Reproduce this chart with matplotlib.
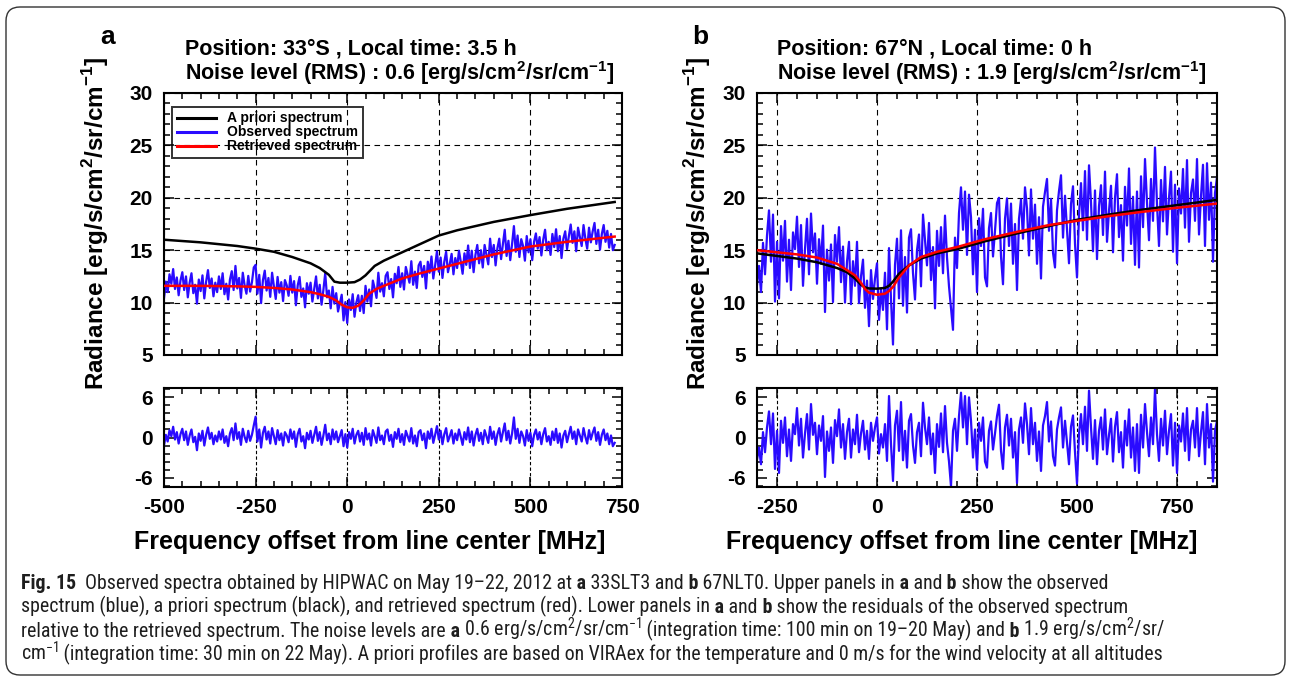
import numpy as np
import matplotlib
matplotlib.use("Agg")
import matplotlib.pyplot as plt
from matplotlib import font_manager as fm
from matplotlib.patches import FancyBboxPatch
from matplotlib.ticker import MultipleLocator
from matplotlib.transforms import IdentityTransform


def pick_caption_font():
    # prefer a narrow face, the caption in the paper is set in a condensed sans
    for fam, stretch in [("Liberation Sans Narrow", "normal"), ("Roboto Condensed", "normal"),
                         ("Open Sans Condensed", "normal"), ("DejaVu Sans", "condensed")]:
        try:
            path = fm.findfont(fm.FontProperties(family=fam, stretch=stretch),
                               fallback_to_default=False)
        except ValueError:
            continue
        if stretch == "normal" or "ondensed" in path:
            return fam, stretch
    return "Open Sans", "normal"


cap_font, cap_stretch = pick_caption_font()

plt.rcParams["font.family"] = ["Liberation Sans", "DejaVu Sans"]
plt.rcParams["font.weight"] = "bold"
plt.rcParams["axes.unicode_minus"] = False
plt.rcParams["mathtext.fontset"] = "custom"
plt.rcParams["mathtext.rm"] = cap_font + ":weight=normal"
plt.rcParams["mathtext.bf"] = "Liberation Sans:bold"

# ---------------- data ----------------
# panel a : 33S, LT 3.5 h
freq_a = np.arange(-500, 731, 5)
obs_a = [10.4, 12.0, 11.0, 12.7, 11.8, 13.2, 11.3, 12.4, 10.7, 12.1,
         12.9, 11.2, 12.5, 10.5, 11.9, 12.8, 10.9, 11.7, 9.9, 12.2,
         11.1, 12.6, 10.4, 12.0, 13.1, 11.4, 12.3, 10.6, 11.9, 11.0,
         12.5, 11.3, 12.8, 10.8, 11.8, 10.3, 12.2, 13.0, 11.2, 13.5,
         11.35, 12.35, 10.45, 12.85, 11.65, 10.85, 12.55, 11.05, 11.95, 13.35,
         13.6, 10.85, 12.65, 9.95, 12.15, 13.05, 11.15, 12.35, 10.55, 12.85,
         11.55, 10.35, 12.45, 10.95, 11.95, 10.15, 12.15, 11.65, 10.65, 12.55,
         10.95, 12.05, 9.75, 11.65, 12.45, 10.55, 11.35, 9.55, 11.85, 10.85,
         11.9, 10.1, 11.3, 12.5, 10.4, 11.7, 9.8, 11.2, 12.8, 10.5,
         11.15, 9.45, 11.5, 9.9, 10.9, 9.15, 9.95, 10.75, 8.3, 10.05,
         8.05, 10.3, 9.3, 10.8, 8.65, 10.0, 10.7, 9.2, 10.65, 9.0,
         11.6, 10.1, 11.25, 9.65, 12.1, 11.35, 10.45, 12.85, 11.05, 11.85,
         10.6, 12.55, 12.9, 11.3, 12.25, 10.5, 12.75, 11.85, 13.4, 11.5,
         12.8, 11.25, 13.4, 12.65, 11.9, 13.95, 11.7, 12.95, 11.4, 13.55,
         13.9, 12.45, 13.5, 11.35, 13.9, 12.85, 14.4, 12.3, 13.55, 14.9,
         12.95, 14.3, 12.35, 13.9, 14.85, 12.9, 13.7, 14.65, 12.7, 14.25,
         13.3, 14.95, 13.9, 12.75, 14.7, 13.6, 15.45, 13.3, 14.95, 12.9,
         14.55, 15.5, 13.75, 15.0, 13.35, 15.5, 14.6, 13.65, 16.1, 14.35,
         15.5, 13.55, 15.2, 16.1, 14.15, 15.6, 16.95, 14.45, 15.9, 14.05,
         15.6, 17.3, 14.85, 16.4, 14.35, 16.05, 15.4, 14.0, 16.35, 14.8,
         16.05, 14.05, 15.8, 16.6, 15.15, 16.25, 14.5, 16.0, 16.95, 15.0,
         15.8, 14.55, 16.55, 15.3, 17.0, 14.9, 16.35, 14.25, 16.1, 16.8,
         15.1, 16.35, 17.45, 15.7, 16.8, 14.9, 17.15, 16.25, 15.4, 17.4,
         16.1, 15.15, 17.15, 15.75, 16.8, 17.6, 15.6, 16.95, 15.05, 16.55,
         17.4, 15.8, 16.85, 15.25, 16.55, 15.0, 15.5]
res_a = [-1.2, 0.4, -0.6, 1.1, 0.2, 1.6, -0.3, 0.8, -0.9, 0.5,
         1.3, -0.4, 0.9, -1.1, 0.3, 1.2, -0.7, 0.1, -1.9, 0.6,
         -0.5, 1.0, -1.2, 0.4, 1.5, -0.2, 0.7, -1.0, 0.3, -0.6,
         0.9, -0.3, 1.2, -0.8, 0.2, -1.3, 0.6, 1.4, -0.4, 2.1,
         -0.2, 0.8, -1.1, 1.3, 0.1, -0.7, 1.0, -0.5, 0.4, 1.8,
         3.1, -0.6, 1.2, -1.5, 0.7, 1.6, -0.3, 0.9, -0.9, 1.4,
         0.2, -1.0, 1.1, -0.4, 0.6, -1.2, 0.8, 0.3, -0.7, 1.2,
         -0.2, 0.9, -1.4, 0.5, 1.3, -0.6, 0.2, -1.6, 0.7, -0.3,
         1.0, -0.8, 0.4, 1.6, -0.5, 0.8, -1.1, 0.3, 1.9, -0.4,
         0.6, -1.0, 1.2, -0.3, 0.9, -0.7, 0.2, 1.1, -1.3, 0.5,
         -1.5, 0.8, -0.2, 1.3, -0.9, 0.4, 1.0, -0.6, 0.7, -1.1,
         1.4, -0.3, 0.6, -1.2, 1.1, 0.2, -0.8, 1.5, -0.4, 0.3,
         -1.0, 0.9, 1.2, -0.5, 0.4, -1.4, 0.8, -0.2, 1.3, -0.7,
         0.5, -1.1, 1.0, 0.2, -0.6, 1.4, -0.9, 0.3, -1.3, 0.8,
         1.1, -0.4, 0.6, -1.6, 0.9, -0.2, 1.3, -0.8, 0.4, 1.7,
         -0.3, 1.0, -1.0, 0.5, 1.4, -0.6, 0.2, 1.1, -0.9, 0.6,
         -0.4, 1.2, 0.1, -1.1, 0.8, -0.3, 1.5, -0.7, 0.9, -1.2,
         0.4, 1.3, -0.5, 0.7, -1.0, 1.1, 0.2, -0.8, 1.6, -0.2,
         0.9, -1.1, 0.5, 1.4, -0.6, 0.8, 2.1, -0.4, 1.0, -0.9,
         0.6, 3.0, -0.2, 1.3, -0.8, 0.9, 0.2, -1.2, 1.1, -0.5,
         0.7, -1.3, 0.4, 1.2, -0.3, 0.8, -1.0, 0.5, 1.4, -0.6,
         0.2, -1.1, 0.9, -0.4, 1.3, -0.8, 0.6, -1.5, 0.3, 1.0,
         -0.7, 0.5, 1.6, -0.2, 0.9, -1.0, 1.2, 0.3, -0.6, 1.4,
         0.1, -0.9, 1.1, -0.3, 0.7, 1.5, -0.5, 0.8, -1.1, 0.4,
         1.2, -0.4, 0.6, -1.0, 0.3, -1.3, -0.8]
curve_fa = [-500, -400, -300, -250, -200, -150, -100, -75, -50, -35, -20, 0,
            20, 35, 50, 75, 100, 150, 200, 250, 300, 400, 500, 600, 730]
apriori_a = [16.0, 15.75, 15.4, 15.15, 14.85, 14.35, 13.75, 13.3, 12.65, 12.0,
             11.9, 11.9, 11.95, 12.2, 12.6, 13.5, 14.0, 14.8, 15.6, 16.4, 16.9,
             17.7, 18.35, 18.95, 19.6]
retr_fa = [-500, -400, -300, -250, -200, -150, -100, -75, -50, -30, -15, 0,
           15, 30, 45, 60, 80, 100, 150, 200, 250, 300, 400, 500, 600, 730]
retrieved_a = [11.6, 11.6, 11.55, 11.5, 11.4, 11.25, 11.0, 10.8, 10.55, 10.2,
               9.8, 9.55, 9.5, 9.7, 10.2, 10.85, 11.3, 11.6, 12.3, 12.8, 13.25,
               13.7, 14.6, 15.35, 15.8, 16.3]

# panel b : 67N, LT 0 h
freq_b = np.arange(-300, 851, 5)
obs_b = [11.7, 13.5, 11.0, 15.7, 12.7, 16.4, 18.8, 13.9, 18.4, 10.1,
         15.8, 10.4, 17.3, 14.0, 17.8, 12.0, 16.0, 11.2, 16.7, 15.1,
         18.2, 13.4, 17.4, 11.6, 15.1, 18.0, 12.7, 18.5, 14.8, 16.6,
         11.8, 16.05, 13.7, 17.35, 9.1, 15.05, 12.1, 15.55, 10.05, 16.45,
         13.9, 17.2, 11.95, 15.35, 10.0, 13.9, 15.8, 9.85, 13.95, 11.6,
         15.8, 9.95, 12.5, 14.1, 9.5, 12.1, 7.75, 13.1, 10.35, 12.3,
         13.75, 8.35, 11.25, 9.3, 12.85, 7.45, 15.2, 10.3, 6.0, 13.6,
         16.1, 10.4, 16.9, 9.7, 14.35, 9.05, 16.2, 17.0, 12.8, 10.3,
         15.0, 16.5, 11.55, 18.4, 16.0, 13.55, 17.6, 12.15, 15.3, 9.45,
         16.85, 13.5, 17.2, 12.8, 18.3, 14.3, 11.55, 9.5, 7.4, 16.2,
         13.3, 18.55, 21.0, 16.95, 20.6, 14.55, 20.3, 18.15, 12.7, 16.95,
         11.0, 18.05, 15.4, 18.95, 12.4, 11.55, 17.1, 18.55, 14.4, 16.85,
         19.5, 20.0, 14.4, 11.75, 18.0, 19.95, 15.4, 19.45, 13.7, 17.5,
         11.2, 18.0, 19.85, 16.1, 21.0, 19.0, 14.5, 20.8, 16.1, 19.35,
         13.7, 18.15, 12.3, 19.15, 20.55, 21.8, 16.85, 19.9, 14.75, 13.35,
         18.8, 20.65, 22.15, 16.2, 20.2, 16.95, 13.75, 19.4, 21.1, 15.6,
         12.4, 18.35, 21.4, 16.9, 22.55, 16.0, 23.1, 19.55, 14.9, 20.7,
         14.15, 19.2, 21.2, 16.45, 22.5, 15.8, 18.75, 21.15, 14.8, 20.0,
         22.25, 16.25, 19.3, 14.0, 21.05, 17.35, 22.8, 15.6, 20.1, 13.6,
         20.6, 13.35, 22.05, 17.2, 23.7, 19.55, 15.95, 21.8, 17.8, 24.8,
         19.35, 15.4, 21.7, 17.75, 22.95, 16.5, 20.0, 22.5, 14.85, 21.25,
         13.75, 20.9, 18.5, 22.75, 17.15, 23.6, 15.8, 20.45, 21.75, 17.8,
         23.7, 16.5, 20.15, 23.15, 15.4, 23.3, 17.9, 21.45, 13.9, 20.45,
         21.95]
res_b = [-3.3, -1.5, -4.0, 0.8, -2.2, 1.5, 3.9, -1.0, 3.6, -4.7,
         1.0, -5.3, 2.5, -0.8, 3.0, -2.8, 1.2, -3.5, 2.0, 0.5,
         4.4, -1.2, 2.8, -3.0, 0.6, 3.5, -1.8, 5.0, 0.4, 2.2,
         -2.5, 1.8, -0.5, 3.2, -5.9, 0.9, -2.0, 1.5, -3.8, 2.6,
         0.2, 4.2, -1.5, 2.0, -3.2, 0.8, 2.8, -3.0, 1.2, -1.0,
         3.4, -2.2, 0.6, 2.5, -1.8, 1.0, -3.2, 2.2, -0.5, 1.5,
         3.0, -2.4, 0.5, -1.5, 2.0, -3.5, 6.2, -1.0, -6.5, 1.8,
         4.0, -2.0, 5.3, -3.4, 1.0, -4.5, 2.5, 3.5, -1.2, -3.8,
         0.8, 2.2, -2.8, 5.2, 1.5, -1.0, 3.0, -2.5, 0.6, -5.3,
         2.0, -1.4, 3.6, -2.2, 4.7, -0.8, -3.6, -7.3, 1.0, 2.8,
         -2.0, 3.2, 6.7, 1.5, 6.2, -1.0, 6.0, 2.5, -3.0, 1.2,
         -4.8, 2.2, -0.5, 3.0, -3.6, -4.5, 1.0, 2.4, -1.8, 0.6,
         3.2, 4.9, -2.0, -4.7, 1.5, 3.4, -1.2, 2.8, -3.0, 0.8,
         -6.8, 1.2, 3.0, -0.8, 5.1, 2.0, -2.5, 4.4, -1.0, 2.2,
         -3.5, 0.9, -5.0, 1.8, 3.2, 5.3, -0.6, 2.4, -2.8, -4.2,
         1.2, 3.0, 4.5, -1.5, 2.5, -0.8, -4.0, 1.6, 3.3, -2.2,
         -6.9, 0.5, 3.5, -1.0, 4.6, -2.0, 7.0, 1.5, -3.2, 2.6,
         -4.0, 1.0, 3.0, -1.8, 4.2, -2.5, 0.4, 2.8, -3.6, 1.6,
         3.8, -2.2, 0.8, -4.5, 2.5, -1.2, 4.2, -3.0, 1.5, -5.0,
         2.0, -5.3, 3.4, -1.5, 5.0, 0.8, -2.8, 3.0, -1.0, 7.3,
         0.5, -3.5, 2.8, -1.2, 4.0, -2.5, 1.0, 3.5, -4.2, 2.2,
         -5.3, 1.8, -0.6, 3.6, -2.0, 4.4, -3.4, 1.2, 2.5, -1.5,
         4.4, -2.8, 0.8, 3.8, -4.0, 5.0, -1.5, 2.0, -6.6, 1.0,
         2.5]
curve_fb = [-300, -250, -200, -150, -100, -75, -55, -40, -30, -20, 0, 20, 30,
            40, 55, 80, 110, 150, 200, 270, 350, 430, 500, 580, 650, 750, 850]
apriori_b = [14.7, 14.45, 14.2, 13.85, 13.3, 12.9, 12.3, 11.7, 11.45, 11.35,
             11.33, 11.4, 11.6, 12.0, 12.75, 13.55, 14.2, 14.7, 15.1, 15.85,
             16.6, 17.3, 17.9, 18.4, 18.8, 19.3, 19.8]
retrieved_b = [15.0, 14.8, 14.6, 14.3, 13.7, 13.1, 12.6, 11.9, 11.3, 10.95,
               10.75, 10.85, 11.1, 11.5, 12.4, 13.55, 14.35, 14.85, 15.3, 16.05,
               16.75, 17.4, 17.8, 18.25, 18.6, 19.05, 19.45]

titles_a = ["Position: 33°S , Local time: 3.5 h",
            "Noise level (RMS) : 0.6 [erg/s/cm$^{\\mathbf{2}}$/sr/cm$^{\\mathbf{-1}}$]"]
titles_b = ["Position: 67°N , Local time: 0 h",
            "Noise level (RMS) : 1.9 [erg/s/cm$^{\\mathbf{2}}$/sr/cm$^{\\mathbf{-1}}$]"]
ylabel = "Radiance [erg/s/cm$^{\\mathbf{2}}$/sr/cm$^{\\mathbf{-1}}$]"
xlabel = "Frequency offset from line center [MHz]"

caption = [
    [("Fig. 15", True), ("  Observed spectra obtained by HIPWAC on May 19–22, 2012 at", False),
     (" a", True), (" 33SLT3 and", False), (" b", True), (" 67NLT0. Upper panels in", False),
     (" a", True), (" and", False), (" b", True), (" show the observed", False)],
    [("spectrum (blue), a priori spectrum (black), and retrieved spectrum (red). Lower panels in", False),
     (" a", True), (" and", False), (" b", True), (" show the residuals of the observed spectrum", False)],
    [("relative to the retrieved spectrum. The noise levels are", False), (" a", True),
     (" 0.6 erg/s/cm$^{2}$/sr/cm$^{-1}$", False),
     (" (integration time: 100 min on 19–20 May) and", False),
     (" b", True), (" 1.9 erg/s/cm$^{2}$/sr/", False)],
    [("cm$^{-1}$", False),
     (" (integration time: 30 min on 22 May). A priori profiles are based on VIRAex "
      "for the temperature and 0 m/s for the wind velocity at all altitudes", False)],
]
caption_ends = [1093, 1076, 1262, 1263]   # right end of each caption line in the paper, px

BLUE = "#2a0bff"
W, H = 1290, 680
fig = plt.figure(figsize=(W / 100, H / 100), dpi=100)


def box(x0, y0, x1, y1):
    return [x0 / W, 1 - y1 / H, (x1 - x0) / W, (y1 - y0) / H]


def style(ax, xlim, xmaj, ylim, ymaj, ymin, upper):
    ax.set_xlim(xlim)
    ax.set_ylim(ylim)
    ax.set_xticks(xmaj)
    ax.set_yticks(ymaj)
    ax.xaxis.set_minor_locator(MultipleLocator(50))
    ax.yaxis.set_minor_locator(MultipleLocator(ymin))
    ax.tick_params(which="both", direction="in", top=True, right=True, width=1.1)
    ax.tick_params(which="major", length=7, labelsize=15, pad=8)
    ax.tick_params(which="minor", length=4)
    for s in ax.spines.values():
        s.set_linewidth(1.5)
    if upper:
        ax.tick_params(labelbottom=False)
        ax.grid(True, which="major", color="k", lw=0.8, ls=(0, (5, 4)))
    else:
        ax.grid(True, which="major", axis="x", color="k", lw=0.8, ls=(0, (3, 2)))


panels = [
    dict(x0=164, x1=622, xlim=(-500, 750), xt=[-500, -250, 0, 250, 500, 750],
         f=freq_a, obs=obs_a, res=res_a, cf=curve_fa, ap=apriori_a, rf=retr_fa,
         rt=retrieved_a, titles=titles_a, lab="a", tx=185, lx=108, yl=96, xl=370),
    dict(x0=757, x1=1217, xlim=(-300, 850), xt=[-250, 0, 250, 500, 750],
         f=freq_b, obs=obs_b, res=res_b, cf=curve_fb, ap=apriori_b, rf=curve_fb,
         rt=retrieved_b, titles=titles_b, lab="b", tx=777, lx=700, yl=698, xl=962),
]

for i, p in enumerate(panels):
    ax = fig.add_axes(box(p["x0"], 93, p["x1"], 355))
    ax.plot(p["f"], p["obs"], color=BLUE, lw=1.6, label="Observed spectrum", zorder=2)
    ax.plot(p["cf"], p["ap"], color="k", lw=1.8, label="A priori spectrum", zorder=3)
    ax.plot(p["rf"], p["rt"], color="#ff0000", lw=1.8, label="Retrieved spectrum", zorder=4)
    style(ax, p["xlim"], p["xt"], (5, 30), [5, 10, 15, 20, 25, 30], 1, True)
    if i == 0:
        h, l = ax.get_legend_handles_labels()
        order = [1, 0, 2]
        leg = ax.legend([h[k] for k in order], [l[k] for k in order],
                        loc="upper left", bbox_to_anchor=(0.017, 0.948),
                        borderaxespad=0, frameon=True, fancybox=False,
                        edgecolor="k", facecolor="none", prop={"weight": "bold", "size": 10},
                        handlelength=2.8, handletextpad=0.8, labelspacing=0.0,
                        borderpad=0.35)
        leg.get_frame().set_linewidth(1.4)
        for lh in leg.get_lines():
            lh.set_linewidth(2.2)

    axr = fig.add_axes(box(p["x0"], 388, p["x1"], 487))
    axr.plot(p["f"], p["res"], color=BLUE, lw=1.6)
    style(axr, p["xlim"], p["xt"], (-7.4, 7.4), [-6, 0, 6], 1.2, False)

    fig.text(p["tx"] / W, 1 - 54 / H, p["titles"][0], fontsize=15.5, va="baseline")
    fig.text(p["tx"] / W, 1 - 80 / H, p["titles"][1], fontsize=15.5, va="baseline")
    fig.text(p["lx"] / W, 1 - 37 / H, p["lab"], fontsize=19, ha="center", va="center")
    fig.text(p["yl"] / W, 1 - 223 / H, ylabel, fontsize=17.5, rotation=90,
             ha="center", va="center")
    fig.text(p["xl"] / W, 1 - 542 / H, xlabel, fontsize=18, ha="center", va="center")


# caption, drawn segment by segment so the bold letters sit inline
renderer = fig.canvas.get_renderer()


def draw_caption(size):
    artists, ends = [], []
    for k, line in enumerate(caption):
        x = 21 / W
        y = 1 - (589 + k * 23.8) / H
        for txt, bold in line:
            t = fig.text(x, y, txt, family=cap_font, stretch=cap_stretch, fontsize=size,
                         weight="bold" if bold else "normal", va="baseline", color="#1e1e1e")
            artists.append(t)
            x += t.get_window_extent(renderer).width / W
        ends.append(x * W)
    return artists, ends


trial, ends = draw_caption(10)
for t in trial:
    t.remove()
scale = sum(e - 21 for e in caption_ends) / sum(e - 21 for e in ends)
draw_caption(10 * scale * 0.97)

fig.patches.append(FancyBboxPatch((6, 5), 1279, 668, boxstyle="round,pad=0,rounding_size=14",
                                  transform=IdentityTransform(), fc="none", ec="#333333",
                                  lw=1.0))

fig.savefig("out.png", dpi=100)
